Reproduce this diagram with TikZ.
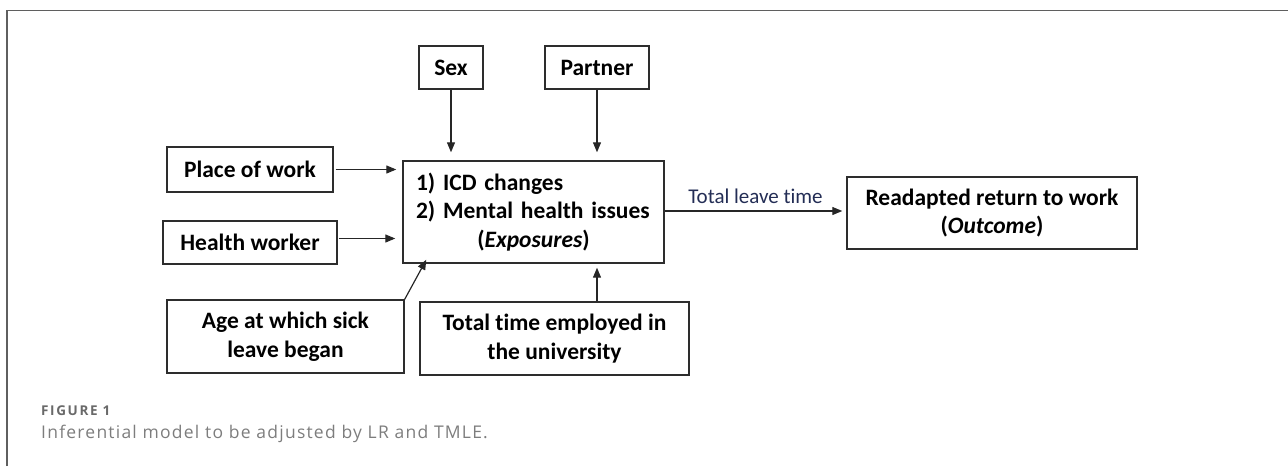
\documentclass[tikz,border=0pt]{standalone}
\usepackage{fontspec}
\setmainfont{Carlito}[Ligatures=NoCommon]
\newfontfamily\capfont{Open Sans}
\usetikzlibrary{arrows.meta}
\definecolor{boxline}{RGB}{45,45,45}
\definecolor{leavenavy}{RGB}{35,45,85}
\definecolor{framegray}{RGB}{95,95,95}
\definecolor{capgray}{RGB}{105,105,105}
\definecolor{capnote}{RGB}{125,125,125}
\tikzset{
  factor/.style={draw=boxline, line width=1.4pt, inner sep=0pt, align=center,
    font=\fontsize{23.5}{28.5}\selectfont\bfseries},
  link/.style={-{Triangle[length=10pt,width=8pt]}, line width=1.2pt, draw=black!85},
}

\begin{document}
\begin{tikzpicture}[x=1pt,y=-1pt]
  \useasboundingbox (0,0) rectangle (1288,466);

  % frame of the figure
  \draw [framegray, line width=1.5pt] (7,466) -- (7,10.5) -- (1288,10.5);

  % factors
  \node [factor, minimum width=64pt, minimum height=43pt] (sex) at (451,67.5) {Sex};
  \node [factor, minimum width=104pt, minimum height=43pt] (partner) at (597,67.5) {Partner};
  \node [factor, minimum width=166pt, minimum height=45pt] (place) at (250,169.5) {Place of work};
  \node [factor, minimum width=174pt, minimum height=43pt] (health) at (250,242.5) {Health worker};
  \node [factor, minimum width=237pt, minimum height=73pt] (age) at (285.5,336.5) {Age at which sick\\leave began};
  \node [factor, minimum width=269pt, minimum height=73pt] (tenure) at (554.5,338.5) {Total time employed in\\the university};

  % exposures and outcome
  \node [factor, align=left, text width=235pt, minimum width=261pt, minimum height=102pt] (expo) at (533.5,212)
    {1) ICD changes\\2) Mental health issues\\\makebox[\linewidth]{(\textit{Exposures})}};
  \node [factor, minimum width=290pt, minimum height=72pt] (outcome) at (992,213) {Readapted return to work\\(\textit{Outcome})};

  % connectors
  \draw [link, shorten >=8pt] (sex.south) -- (sex.south |- expo.north);
  \draw [link, shorten >=8pt] (partner.south) -- (partner.south |- expo.north);
  \draw [link, shorten <=2pt, shorten >=6pt] (place.east) -- (place.east -| expo.west);
  \draw [link, shorten <=1pt, shorten >=7pt] ([yshift=4pt]health.east) -- ([yshift=4pt]health.east -| expo.west);
  \draw [link] (age.north east) -- ([shift={(24pt,4pt)}]expo.south west);
  \draw [link, shorten >=4pt] (tenure.north -| partner.south) -- (expo.south -| partner.south);
  \draw [link, shorten >=4pt] ([yshift=1pt]expo.east) -- ([yshift=1pt]expo.east -| outcome.west)
    node [midway, above=3pt, text=leavenavy, font=\fontsize{21}{24}\selectfont] (leave) {Total leave time};

  % caption
  \node [anchor=west, inner sep=0pt, text=capgray, font=\capfont\bfseries\fontsize{13.5}{16}\selectfont\addfontfeature{LetterSpace=12}] (fig) at (41,411) {FIGURE 1};
  \node [anchor=west, inner sep=0pt, text=capnote, font=\capfont\fontsize{17.5}{21}\selectfont\addfontfeature{LetterSpace=7}] (cap) at (41,434) {Inferential model to be adjusted by LR and TMLE.};
\end{tikzpicture}
\end{document}
